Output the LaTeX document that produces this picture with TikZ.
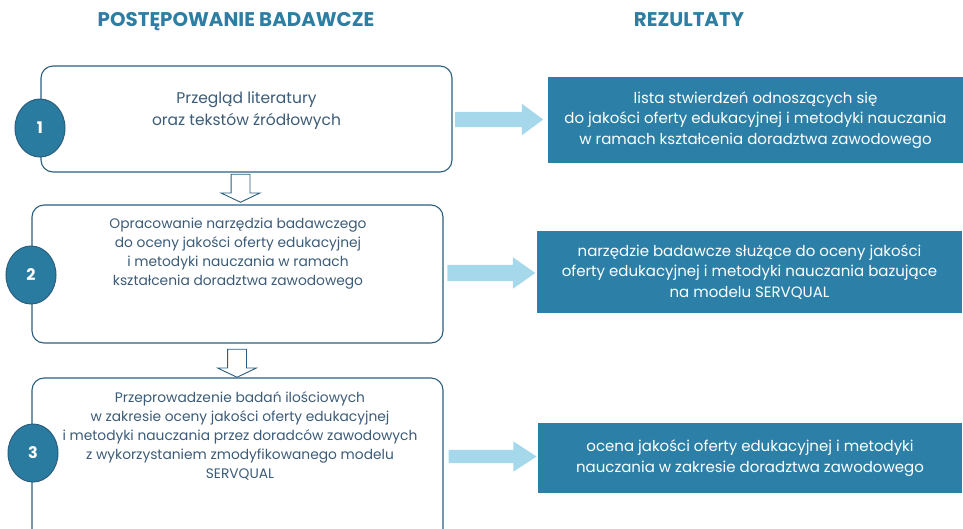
\documentclass[tikz,border=0pt]{standalone}
\usepackage{fontspec}
\setmainfont{Poppins}
\usetikzlibrary{shapes.geometric,shapes.arrows}
\definecolor{headblue}{HTML}{2E7DA2}
\definecolor{stepblue}{HTML}{2A7BA0}
\definecolor{stepline}{HTML}{2B5E7E}
\definecolor{steptext}{HTML}{3B5B78}
\definecolor{resblue}{HTML}{2C80A7}
\definecolor{lightarrow}{HTML}{A6D8EC}
\tikzset{
  heading/.style={font=\bfseries\fontsize{19.8}{22}\selectfont,text=headblue},
  stepbox/.style={draw=stepline,line width=1.1pt,rounded corners=12pt,minimum width=411pt},
  steptxt/.style={align=center,text=steptext,font=\fontsize{13.8}{19}\selectfont},
  stepnum/.style={ellipse,draw=stepline,fill=stepblue,line width=1pt,minimum width=50pt,minimum height=58pt,inner sep=0pt,text=white,font=\bfseries\fontsize{16}{18}\selectfont},
  resbox/.style={fill=resblue,text=white,align=center,font=\fontsize{15}{20.5}\selectfont},
  resarrow/.style={single arrow,fill=lightarrow,inner sep=0pt,minimum height=88pt},
  downarrow/.style={single arrow,draw=stepline,fill=white,line width=0.9pt,inner sep=0pt,inner ysep=9pt,
    single arrow head extend=10pt,minimum width=38pt,minimum height=28pt,single arrow tip angle=129,rotate=-90}
}
\begin{document}
\begin{tikzpicture}[x=1pt,y=-1pt]
\useasboundingbox (0,0) rectangle (963,528);
\clip (0,0) rectangle (963,528);
% headings
\node[heading] (hleft) at (236,22) {POSTĘPOWANIE BADAWCZE};
\node[heading] (hright) at (689,20) {REZULTATY};

% steps
\node[stepbox,minimum height=106pt] (b1) at (246.5,119) {};
\node[steptxt,font=\fontsize{15.5}{22}\selectfont] (t1) at (246.5,111) {Przegląd literatury\\oraz tekstów źródłowych};
\node[stepnum] (n1) at (40,128) {1};

\node[stepbox,minimum height=138pt] (b2) at (237.5,274) {};
\node[steptxt] (t2) at (238,254) {Opracowanie narzędzia badawczego\\do oceny jakości oferty edukacyjnej\\i metodyki nauczania w ramach\\kształcenia doradztwa zawodowego};
\node[stepnum] (n2) at (31,275) {2};

\node[stepbox,minimum height=190pt] (b3) at (237.5,473) {};
\node[steptxt] (t3) at (240,436) {Przeprowadzenie badań ilościowych\\w zakresie oceny jakości oferty edukacyjnej\\i metodyki nauczania przez doradców zawodowych\\z wykorzystaniem zmodyfikowanego modelu\\SERVQUAL};
\node[stepnum] (n3) at (33,453) {3};

\node[downarrow] (d1) at (240.5,186) {};
\node[downarrow] (d2) at (237,361) {};

% results
\node[resbox,minimum width=415pt,minimum height=86pt] (r1) at (755.5,120) {lista stwierdzeń odnoszących się\\do jakości oferty edukacyjnej i metodyki nauczania\\w ramach kształcenia doradztwa zawodowego};
\node[resbox,minimum width=425pt,minimum height=82pt] (r2) at (749.5,272) {narzędzie badawcze służące do oceny jakości\\oferty edukacyjnej i metodyki nauczania bazujące\\na modelu SERVQUAL};
\node[resbox,minimum width=424pt,minimum height=70pt] (r3) at (750,458) {ocena jakości oferty edukacyjnej i metodyki\\nauczania w zakresie doradztwa zawodowego};

\node[resarrow,inner ysep=7.5pt,single arrow head extend=8pt,minimum width=31pt,single arrow tip angle=73] (a1) at (494,119.5) {};
\node[resarrow,inner ysep=8pt,single arrow head extend=7.5pt,minimum width=31pt,single arrow tip angle=70] (a2) at (485.5,273) {};
\node[resarrow,inner ysep=6.5pt,single arrow head extend=8.5pt,minimum width=30pt,single arrow tip angle=66] (a3) at (487.5,456.5) {};
\end{tikzpicture}
\end{document}
